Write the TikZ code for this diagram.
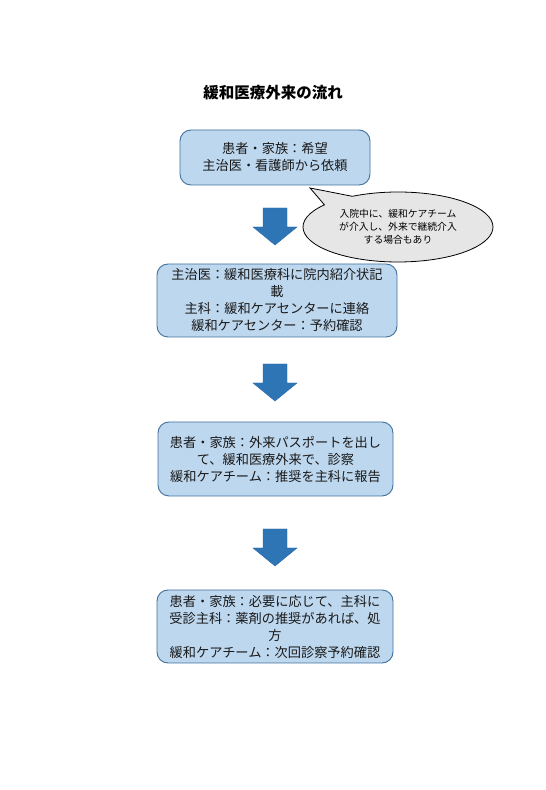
\documentclass[tikz,border=0pt]{standalone}
\usepackage{fontspec}
\newfontfamily\jp{Noto Sans CJK JP}
\usetikzlibrary{shapes.callouts,shapes.geometric}
\definecolor{boxfill}{HTML}{BDD7EE}
\definecolor{boxline}{HTML}{41719C}
\definecolor{arrowfill}{HTML}{2E75B6}
\definecolor{notefill}{HTML}{E7E6E6}
\tikzset{
  flowbox/.style={draw=boxline, fill=boxfill, line width=0.9pt, rounded corners=11pt,
    align=center, inner sep=0pt, font=\jp\fontsize{13.2}{17}\selectfont, text=black!90},
  blockarrow/.style={fill=arrowfill, draw=arrowfill!90!black, line width=0.4pt},
  note/.style={ellipse callout, draw=black, fill=notefill, line width=0.8pt,
    align=center, inner sep=0pt, font=\jp\fontsize{9.8}{13}\selectfont, callout pointer arc=22}
}
\newcommand{\downarrowat}[2]{%
  \fill[blockarrow] (#1-12,#2) -- (#1+12,#2) -- (#1+12,#2-19) -- (#1+22,#2-19)
    -- (#1,#2-37) -- (#1-22,#2-19) -- (#1-12,#2-19) -- cycle;}
\begin{document}
\begin{tikzpicture}[x=1pt,y=1pt]
\useasboundingbox[fill=white] (0,0) rectangle (546,790);
\node[font=\jp\bfseries\fontsize{15.5}{18}\selectfont] (title) at (273,697) {緩和医療外来の流れ};

\node[flowbox, minimum width=190pt, minimum height=55pt] (b1) at (275,632.5)
  {患者・家族：希望\\主治医・看護師から依頼};
\node[flowbox, minimum width=240pt, minimum height=73pt] (b2) at (277,489.5)
  {主治医：緩和医療科に院内紹介状記\\載\\主科：緩和ケアセンターに連絡\\緩和ケアセンター：予約確認};
\node[flowbox, minimum width=235pt, minimum height=74pt] (b3) at (275.5,331)
  {患者・家族：外来パスポートを出し\\て、緩和医療外来で、診察\\緩和ケアチーム：推奨を主科に報告};
\node[flowbox, minimum width=236pt, minimum height=73pt] (b4) at (275,163.5)
  {患者・家族：必要に応じて、主科に\\受診主科：薬剤の推奨があれば、処\\方\\緩和ケアチーム：次回診察予約確認};

\coordinate (tip) at (310,602);
\node[note, minimum width=190pt, minimum height=70pt, callout absolute pointer={(tip)}] (n1) at (398,563)
  {入院中に、緩和ケアチーム\\が介入し、外来で継続介入\\する場合もあり};

\downarrowat{275}{582}
\downarrowat{275}{426}
\downarrowat{275}{261}
\end{tikzpicture}
\end{document}
